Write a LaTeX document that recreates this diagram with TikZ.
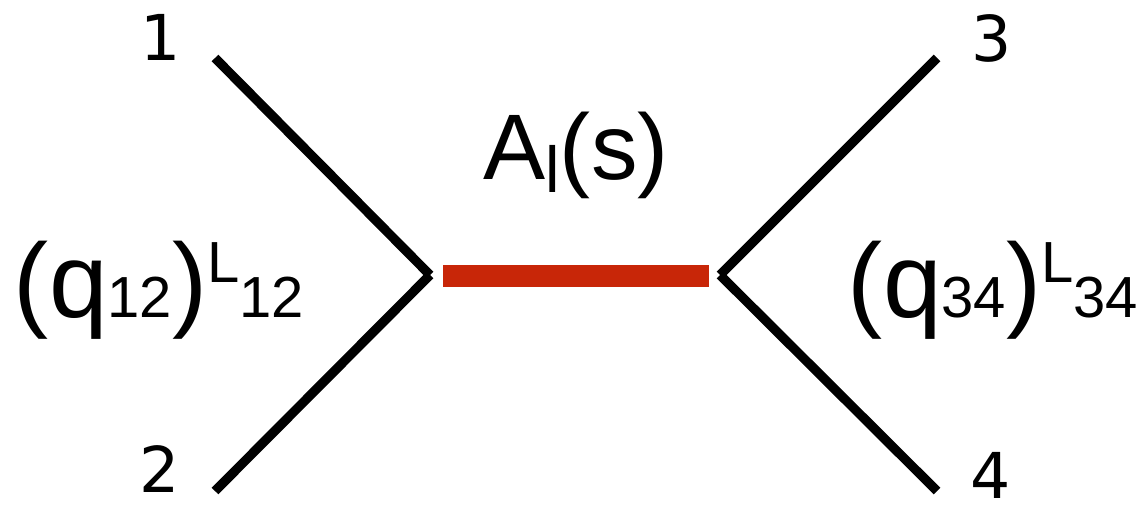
\documentclass[tikz,border=0pt]{standalone}
\usepackage{fontspec}
\setmainfont{Liberation Sans}
\newfontfamily\numfont{DejaVu Sans}
\usetikzlibrary{positioning}
\definecolor{bondred}{RGB}{200,38,8}

\newcommand{\bigsz}{\fontsize{60}{64}\selectfont}
\newcommand{\smsz}{\fontsize{33}{36}\selectfont}
\newcommand{\ampsz}{\fontsize{53}{57}\selectfont}
\newcommand{\ampsub}{\fontsize{37}{40}\selectfont}

\begin{document}
\begin{tikzpicture}[
    x=0.02cm, y=-0.02cm,
    leg/.style={line width=5.3pt, black},
    prop/.style={line width=12.5pt, bondred},
    num/.style={font=\numfont\fontsize{36}{40}\selectfont, inner sep=0pt},
    lbl/.style={font=\bigsz, inner sep=0pt}
]
\useasboundingbox (0,0) rectangle (1145,510);
% vertices and leg ends
\coordinate (vl) at (430,275);
\coordinate (vr) at (720,275);
\coordinate (e1) at (215,58);
\coordinate (e2) at (215,491);
\coordinate (e3) at (937,58);
\coordinate (e4) at (937,491);
\coordinate (bl) at (443,276);
\coordinate (br) at (709,276);

\draw[leg] (e1) -- (vl);
\draw[leg] (vl) -- (e2);
\draw[leg] (e3) -- (vr);
\draw[leg] (vr) -- (e4);
\draw[prop] (bl) -- (br);

\node[num] (n1) at (161,37) {1};
\node[num] (n2) at (160,469) {2};
\node[num] (n3) at (992,38) {3};
\node[num] (n4) at (991,475) {4};

\node[lbl, font=\ampsz, anchor=base] (amp) at (576,179) {A\raisebox{-0.15em}{\ampsub l}(s)};
\node[lbl, anchor=base] (q12) at (159,317) {(q{\smsz 12})\raisebox{0.33em}{\smsz L}{\smsz 12}};
\node[lbl, anchor=base] (q34) at (993,317) {(q{\smsz 34})\raisebox{0.33em}{\smsz L}{\smsz 34}};
\end{tikzpicture}
\end{document}
